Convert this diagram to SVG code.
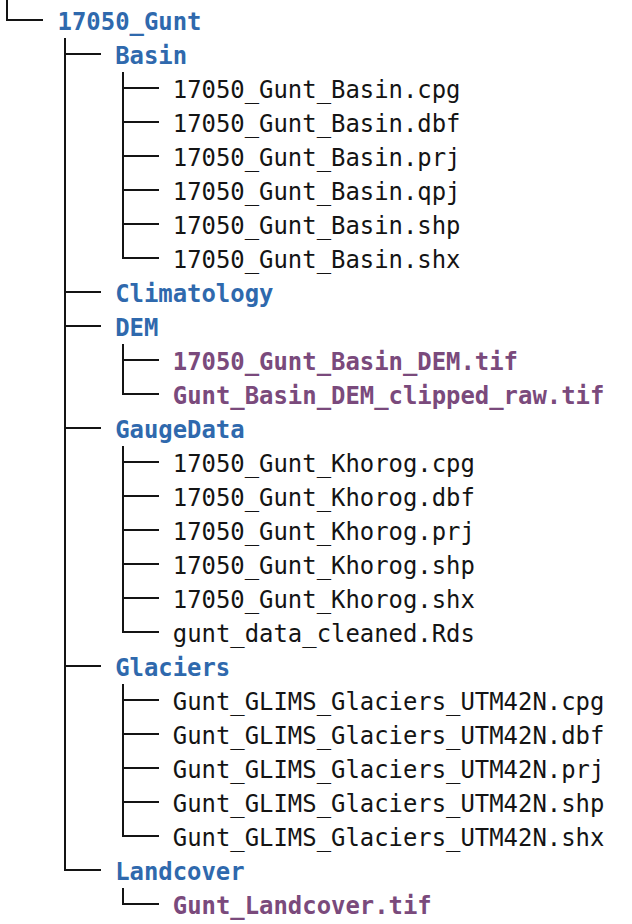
<svg xmlns="http://www.w3.org/2000/svg" width="632" height="924" viewBox="0 0 632 924">
<style>
text{font-family:"DejaVu Sans Mono","Liberation Mono",monospace;font-size:23.9px;white-space:pre}
.dir{fill:#2f69ad;font-weight:bold}
.tif{fill:#7a4a7c;font-weight:bold}
.file{fill:#141414}
.ln{stroke:#141414;stroke-width:2;fill:none}
</style>
<rect width="632" height="924" fill="#ffffff"/>
<g id="connectors" class="ln">
<path d="M7 0V21M6 20H43"/>
<path d="M65 38V871"/>
<path d="M64 54H101M64 292H101M64 326H101M64 428H101M64 666H101M64 870H101"/>
<path d="M123 72V259M123 344V395M123 446V633M123 684V837M123 888V905"/>
<path d="M122 88H159M122 122H159M122 156H159M122 190H159M122 224H159M122 258H159"/>
<path d="M122 360H159M122 394H159"/>
<path d="M122 462H159M122 496H159M122 530H159M122 564H159M122 598H159M122 632H159"/>
<path d="M122 700H159M122 734H159M122 768H159M122 802H159M122 836H159"/>
<path d="M122 904H159"/>
</g>
<g id="n_17050_Gunt"><text class="dir" x="57.6" y="29.5">17050_Gunt</text></g>
<g id="n_Basin"><text class="dir" x="115.2" y="63.5">Basin</text></g>
<g id="n_basin_cpg"><text class="file" x="172.8" y="97.5">17050_Gunt_Basin.cpg</text></g>
<g id="n_basin_dbf"><text class="file" x="172.8" y="131.5">17050_Gunt_Basin.dbf</text></g>
<g id="n_basin_prj"><text class="file" x="172.8" y="165.5">17050_Gunt_Basin.prj</text></g>
<g id="n_basin_qpj"><text class="file" x="172.8" y="199.5">17050_Gunt_Basin.qpj</text></g>
<g id="n_basin_shp"><text class="file" x="172.8" y="233.5">17050_Gunt_Basin.shp</text></g>
<g id="n_basin_shx"><text class="file" x="172.8" y="267.5">17050_Gunt_Basin.shx</text></g>
<g id="n_Climatology"><text class="dir" x="115.2" y="301.5">Climatology</text></g>
<g id="n_DEM"><text class="dir" x="115.2" y="335.5">DEM</text></g>
<g id="n_dem_tif"><text class="tif" x="172.8" y="369.5">17050_Gunt_Basin_DEM.tif</text></g>
<g id="n_dem_raw"><text class="tif" x="172.8" y="403.5">Gunt_Basin_DEM_clipped_raw.tif</text></g>
<g id="n_GaugeData"><text class="dir" x="115.2" y="437.5">GaugeData</text></g>
<g id="n_kh_cpg"><text class="file" x="172.8" y="471.5">17050_Gunt_Khorog.cpg</text></g>
<g id="n_kh_dbf"><text class="file" x="172.8" y="505.5">17050_Gunt_Khorog.dbf</text></g>
<g id="n_kh_prj"><text class="file" x="172.8" y="539.5">17050_Gunt_Khorog.prj</text></g>
<g id="n_kh_shp"><text class="file" x="172.8" y="573.5">17050_Gunt_Khorog.shp</text></g>
<g id="n_kh_shx"><text class="file" x="172.8" y="607.5">17050_Gunt_Khorog.shx</text></g>
<g id="n_rds"><text class="file" x="172.8" y="641.5">gunt_data_cleaned.Rds</text></g>
<g id="n_Glaciers"><text class="dir" x="115.2" y="675.5">Glaciers</text></g>
<g id="n_gl_cpg"><text class="file" x="172.8" y="709.5">Gunt_GLIMS_Glaciers_UTM42N.cpg</text></g>
<g id="n_gl_dbf"><text class="file" x="172.8" y="743.5">Gunt_GLIMS_Glaciers_UTM42N.dbf</text></g>
<g id="n_gl_prj"><text class="file" x="172.8" y="777.5">Gunt_GLIMS_Glaciers_UTM42N.prj</text></g>
<g id="n_gl_shp"><text class="file" x="172.8" y="811.5">Gunt_GLIMS_Glaciers_UTM42N.shp</text></g>
<g id="n_gl_shx"><text class="file" x="172.8" y="845.5">Gunt_GLIMS_Glaciers_UTM42N.shx</text></g>
<g id="n_Landcover"><text class="dir" x="115.2" y="879.5">Landcover</text></g>
<g id="n_lc_tif"><text class="tif" x="172.8" y="913.5">Gunt_Landcover.tif</text></g>
</svg>
